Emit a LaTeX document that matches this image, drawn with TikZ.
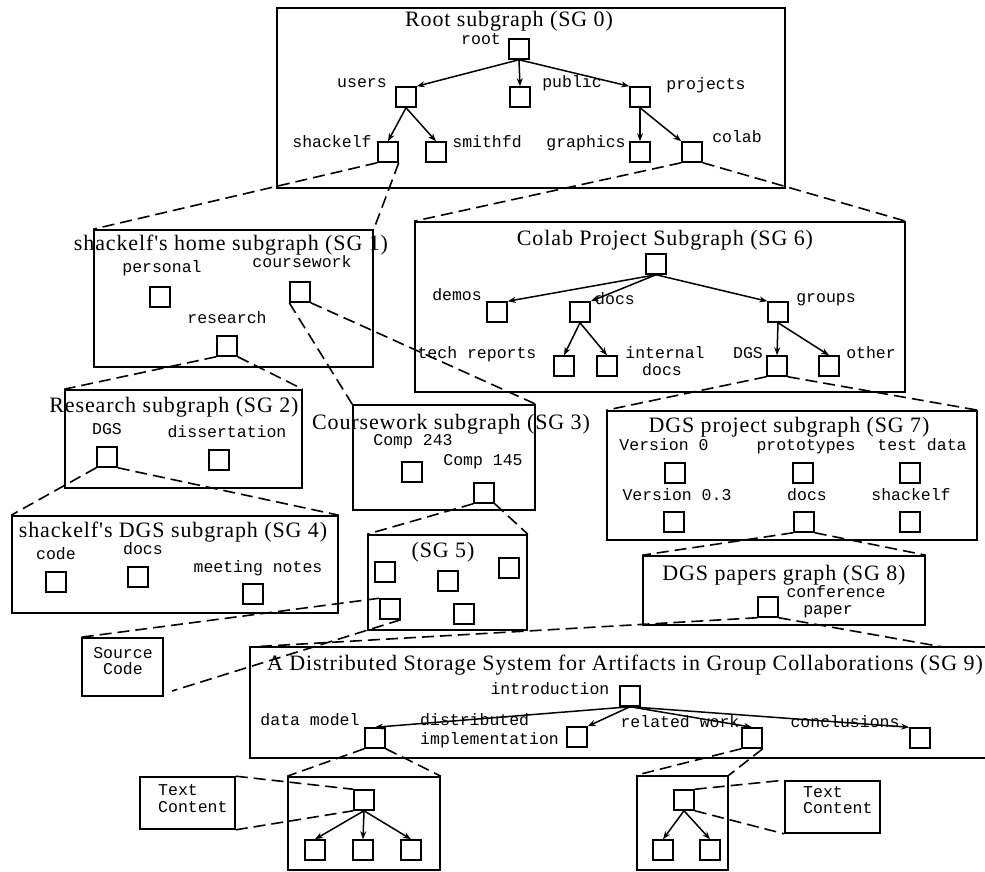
\documentclass[tikz,border=0pt]{standalone}
\usepackage{fontspec}
\setmainfont{Liberation Serif}
\setmonofont{Liberation Mono}
\newfontfamily\ttlfont[LetterSpace=4]{Liberation Serif}
\usetikzlibrary{arrows.meta}
\tikzset{
  sq/.style={draw, line width=1.5pt, minimum size=20pt, inner sep=0pt},
  box/.style={draw, line width=1.6pt, inner sep=0pt},
  ttl/.style={font=\ttlfont\fontsize{22}{24}\selectfont, anchor=base, inner sep=0pt},
  lbl/.style={font=\fontsize{16.5}{18}\selectfont\ttfamily, anchor=mid, inner sep=0pt},
  lblw/.style={lbl, anchor=mid west},
  arr/.style={line width=1.5pt, -{Stealth[length=8pt,width=6pt]}},
  proj/.style={line width=1.6pt, dash pattern=on 12pt off 6pt}
}
\begin{document}
\begin{tikzpicture}[x=1pt,y=-1pt]
\useasboundingbox (0,0) rectangle (985,872);
% ---------- boxes ----------
\node[box, minimum width=508pt, minimum height=180pt] (sg0) at (531,98) {};
\node[box, minimum width=279pt, minimum height=137pt] (sg1) at (233.5,298.5) {};
\node[box, minimum width=237pt, minimum height=98pt] (sg2) at (183.5,439) {};
\node[box, minimum width=182pt, minimum height=105pt] (sg3) at (444,457.5) {};
\node[box, minimum width=326pt, minimum height=97pt] (sg4) at (175,564.5) {};
\node[box, minimum width=159pt, minimum height=95pt] (sg5) at (447.5,582.5) {};
\node[box, minimum width=490pt, minimum height=170pt] (sg6) at (660,307) {};
\node[box, minimum width=370pt, minimum height=129pt] (sg7) at (792,475.5) {};
\node[box, minimum width=282pt, minimum height=69pt] (sg8) at (784,590.5) {};
\coordinate (sg9nw) at (250,647);
\coordinate (sg9sw) at (250,758);
\coordinate (sg9tr) at (943,647);
\draw[line width=1.6pt] (990,647) -- (sg9nw) -- (sg9sw) -- (990,758);
\node[box, minimum width=81pt, minimum height=58pt] (src) at (122.5,667) {};
\node[box, minimum width=152pt, minimum height=93pt] (boxa) at (364,823.5) {};
\node[box, minimum width=95pt, minimum height=52pt] (tca) at (187.5,803) {};
\node[box, minimum width=91pt, minimum height=94pt] (boxb) at (682.5,823) {};
\node[box, minimum width=95pt, minimum height=52pt] (tcb) at (832.5,807) {};
% ---------- titles ----------
\node[ttl] (t0) at (509,27) {Root subgraph (SG 0)};
\node[ttl] (t1) at (231,250) {shackelf's home subgraph (SG 1)};
\node[ttl] (t2) at (174,412) {Research subgraph (SG 2)};
\node[ttl] (t3) at (451,429) {Coursework subgraph (SG 3)};
\node[ttl] (t4) at (173,537) {shackelf's DGS subgraph (SG 4)};
\node[ttl] (t5) at (443,557) {(SG 5)};
\node[ttl] (t6) at (665,245) {Colab Project Subgraph (SG 6)};
\node[ttl] (t7) at (789,432) {DGS project subgraph (SG 7)};
\node[ttl] (t8) at (784,580) {DGS papers graph (SG 8)};
\node[ttl] (t9) at (625,670) {A Distributed Storage System for Artifacts in Group Collaborations (SG 9)};
% ---------- SG0 ----------
\node[sq] (root) at (519,49) {};
\node[sq] (users) at (406,97) {};
\node[sq] (public) at (520,97) {};
\node[sq] (projects) at (640,97) {};
\node[sq] (shackelf) at (388,152) {};
\node[sq] (smithfd) at (436,152) {};
\node[sq] (graphics) at (640,152) {};
\node[sq] (colab) at (692,152) {};
\node[lbl] (lroot) at (481,42) {root};
\node[lbl] (lusers) at (362,85) {users};
\node[lbl] (lpublic) at (572,85) {public};
\node[lbl] (lprojects) at (706,87) {projects};
\node[lbl] (lshackelf) at (332,145) {shackelf};
\node[lbl] (lsmithfd) at (487,145) {smithfd};
\node[lbl] (lgraphics) at (586,145) {graphics};
\node[lbl] (lcolab) at (737,140) {colab};
\draw[arr] (root.south) -- (users.north east);
\draw[arr] (root.south) -- (public.north);
\draw[arr] (root.south) -- (projects.north west);
\draw[arr] (users.south) -- (shackelf.north);
\draw[arr] (users.south) -- (smithfd.north);
\draw[arr] (projects.south) -- (graphics.north);
\draw[arr] (projects.south) -- (colab.north west);
% ---------- SG1 ----------
\node[sq] (personal) at (160,297) {};
\node[sq] (coursework) at (300,292) {};
\node[sq] (research) at (227,346) {};
\node[lbl] (lpersonal) at (162,270) {personal};
\node[lbl] (lcoursework) at (302,265) {coursework};
\node[lbl] (lresearch) at (227,321) {research};
% ---------- SG2 ----------
\node[sq] (dgstwo) at (107,457) {};
\node[sq] (dissert) at (219,460) {};
\node[lbl] (ldgstwo) at (107,432) {DGS};
\node[lbl] (ldissert) at (227,435) {dissertation};
% ---------- SG3 ----------
\node[sq] (compa) at (412,472) {};
\node[sq] (compb) at (484,493) {};
\node[lbl] (lcompa) at (413,443) {Comp 243};
\node[lbl] (lcompb) at (483,463) {Comp 145};
% ---------- SG4 ----------
\node[sq] (code) at (56,582) {};
\node[sq] (docsfour) at (138,577) {};
\node[sq] (meeting) at (253,594) {};
\node[lbl] (lcode) at (56,557) {code};
\node[lbl] (ldocsfour) at (143,552) {docs};
\node[lbl] (lmeeting) at (258,570) {meeting notes};
% ---------- SG5 ----------
\node[sq] (fa) at (385,572) {};
\node[sq] (fb) at (448,581) {};
\node[sq] (fc) at (509,568) {};
\node[sq] (fd) at (390,609) {};
\node[sq] (fe) at (464,614) {};
% ---------- Source code ----------
\node[lbl] (lsrca) at (123,656) {Source};
\node[lbl] (lsrcb) at (123,672) {Code};
% ---------- SG6 ----------
\node[sq] (topsix) at (656,264) {};
\node[sq] (demos) at (497,312) {};
\node[sq] (docssix) at (580,312) {};
\node[sq] (groups) at (778,312) {};
\node[sq] (tech) at (564,366) {};
\node[sq] (internal) at (607,366) {};
\node[sq] (dgssix) at (777,366) {};
\node[sq] (other) at (829,366) {};
\node[lbl] (ldemos) at (457,298) {demos};
\node[lbl] (ldocssix) at (615,302) {docs};
\node[lbl] (lgroups) at (826,300) {groups};
\node[lbl] (ltech) at (477,356) {tech reports};
\node[lbl] (linternala) at (665,356) {internal};
\node[lbl] (linternalb) at (662,373) {docs};
\node[lbl] (ldgssix) at (748,356) {DGS};
\node[lbl] (lother) at (871,356) {other};
\draw[arr] (topsix.south) -- (demos.north east);
\draw[arr] (topsix.south) -- (docssix.north east);
\draw[arr] (topsix.south) -- (groups.north west);
\draw[arr] (docssix.south) -- (tech.north);
\draw[arr] (docssix.south) -- (internal.north);
\draw[arr] (groups.south) -- (dgssix.north);
\draw[arr] (groups.south) -- (other.north);
% ---------- SG7 ----------
\node[sq] (vzero) at (675,473) {};
\node[sq] (proto) at (803,473) {};
\node[sq] (testd) at (910,473) {};
\node[sq] (vthree) at (674,522) {};
\node[sq] (docsseven) at (804,522) {};
\node[sq] (shkseven) at (910,522) {};
\node[lbl] (lvzero) at (664,448) {Version 0};
\node[lbl] (lproto) at (806,448) {prototypes};
\node[lbl] (ltestd) at (922,448) {test data};
\node[lbl] (lvthree) at (677,498) {Version 0.3};
\node[lbl] (ldocsseven) at (807,498) {docs};
\node[lbl] (lshkseven) at (911,498) {shackelf};
% ---------- SG8 ----------
\node[sq] (conf) at (768,607) {};
\node[lbl] (lconfa) at (836,595) {conference};
\node[lbl] (lconfb) at (828,612) {paper};
% ---------- SG9 ----------
\node[sq] (intro) at (630,696) {};
\node[sq] (datamodel) at (375,738) {};
\node[sq] (distrib) at (577,737) {};
\node[sq] (related) at (752,738) {};
\node[sq] (concl) at (920,738) {};
\node[lbl] (lintro) at (550,692) {introduction};
\node[lbl] (ldatamodel) at (310,723) {data model};
\node[lblw] (ldistriba) at (420,723) {distributed};
\node[lblw] (ldistribb) at (420,742) {implementation};
\node[lbl] (lrelated) at (680,725) {related work};
\node[lbl] (lconcl) at (845,725) {conclusions};
\draw[arr] (intro.south) -- (datamodel.north);
\draw[arr] (intro.south) -- (distrib.north east);
\draw[arr] (intro.south) -- (related.north);
\draw[arr] (intro.south) -- (concl.north west);
% ---------- bottom boxes ----------
\node[sq] (ina) at (364,800) {};
\node[sq] (aa) at (315,850) {};
\node[sq] (ab) at (363,850) {};
\node[sq] (ac) at (411,850) {};
\draw[arr] (ina.south) -- (aa.north);
\draw[arr] (ina.south) -- (ab.north);
\draw[arr] (ina.south) -- (ac.north);
\node[sq] (inb) at (684,800) {};
\node[sq] (ba) at (663,850) {};
\node[sq] (bb) at (710,850) {};
\draw[arr] (inb.south) -- (ba.north);
\draw[arr] (inb.south) -- (bb.north);
\node[lblw] (ltcaa) at (158,793) {Text};
\node[lblw] (ltcab) at (158,810) {Content};
\node[lblw] (ltcba) at (803,795) {Text};
\node[lblw] (ltcbb) at (803,811) {Content};
% ---------- projection lines ----------
\coordinate (srcend) at (172,691);
\draw[proj] (shackelf.south west) -- (sg1.north west);
\draw[proj] (shackelf.south east) -- (sg1.north east);
\draw[proj] (colab.south west) -- (sg6.north west);
\draw[proj] (colab.south east) -- (sg6.north east);
\draw[proj] (research.south west) -- (sg2.north west);
\draw[proj] (research.south east) -- (sg2.north east);
\draw[proj] (coursework.south west) -- (sg3.north west);
\draw[proj] (coursework.south east) -- (sg3.north east);
\draw[proj] (dgstwo.south west) -- (sg4.north west);
\draw[proj] (dgstwo.south east) -- (sg4.north east);
\draw[proj] (compb.south west) -- (sg5.north west);
\draw[proj] (compb.south east) -- (sg5.north east);
\draw[proj] (dgssix.south west) -- (sg7.north west);
\draw[proj] (dgssix.south east) -- (sg7.north east);
\draw[proj] (docsseven.south west) -- (sg8.north west);
\draw[proj] (docsseven.south east) -- (sg8.north east);
\draw[proj] (conf.south west) -- (sg9nw);
\draw[proj] (conf.south east) -- (sg9tr);
\draw[proj] (fd.north west) -- (src.north west);
\draw[proj] (fd.south east) -- (srcend);
\draw[proj] (datamodel.south west) -- (boxa.north west);
\draw[proj] (datamodel.south east) -- (boxa.north east);
\draw[proj] (related.south west) -- (boxb.north west);
\draw[proj] (related.south east) -- (boxb.north east);
\draw[proj] (tca.north east) -- (ina.north west);
\draw[proj] (tca.south east) -- (ina.south west);
\draw[proj] (inb.north east) -- (tcb.north west);
\draw[proj] (inb.south east) -- (tcb.south west);
\end{tikzpicture}
\end{document}
